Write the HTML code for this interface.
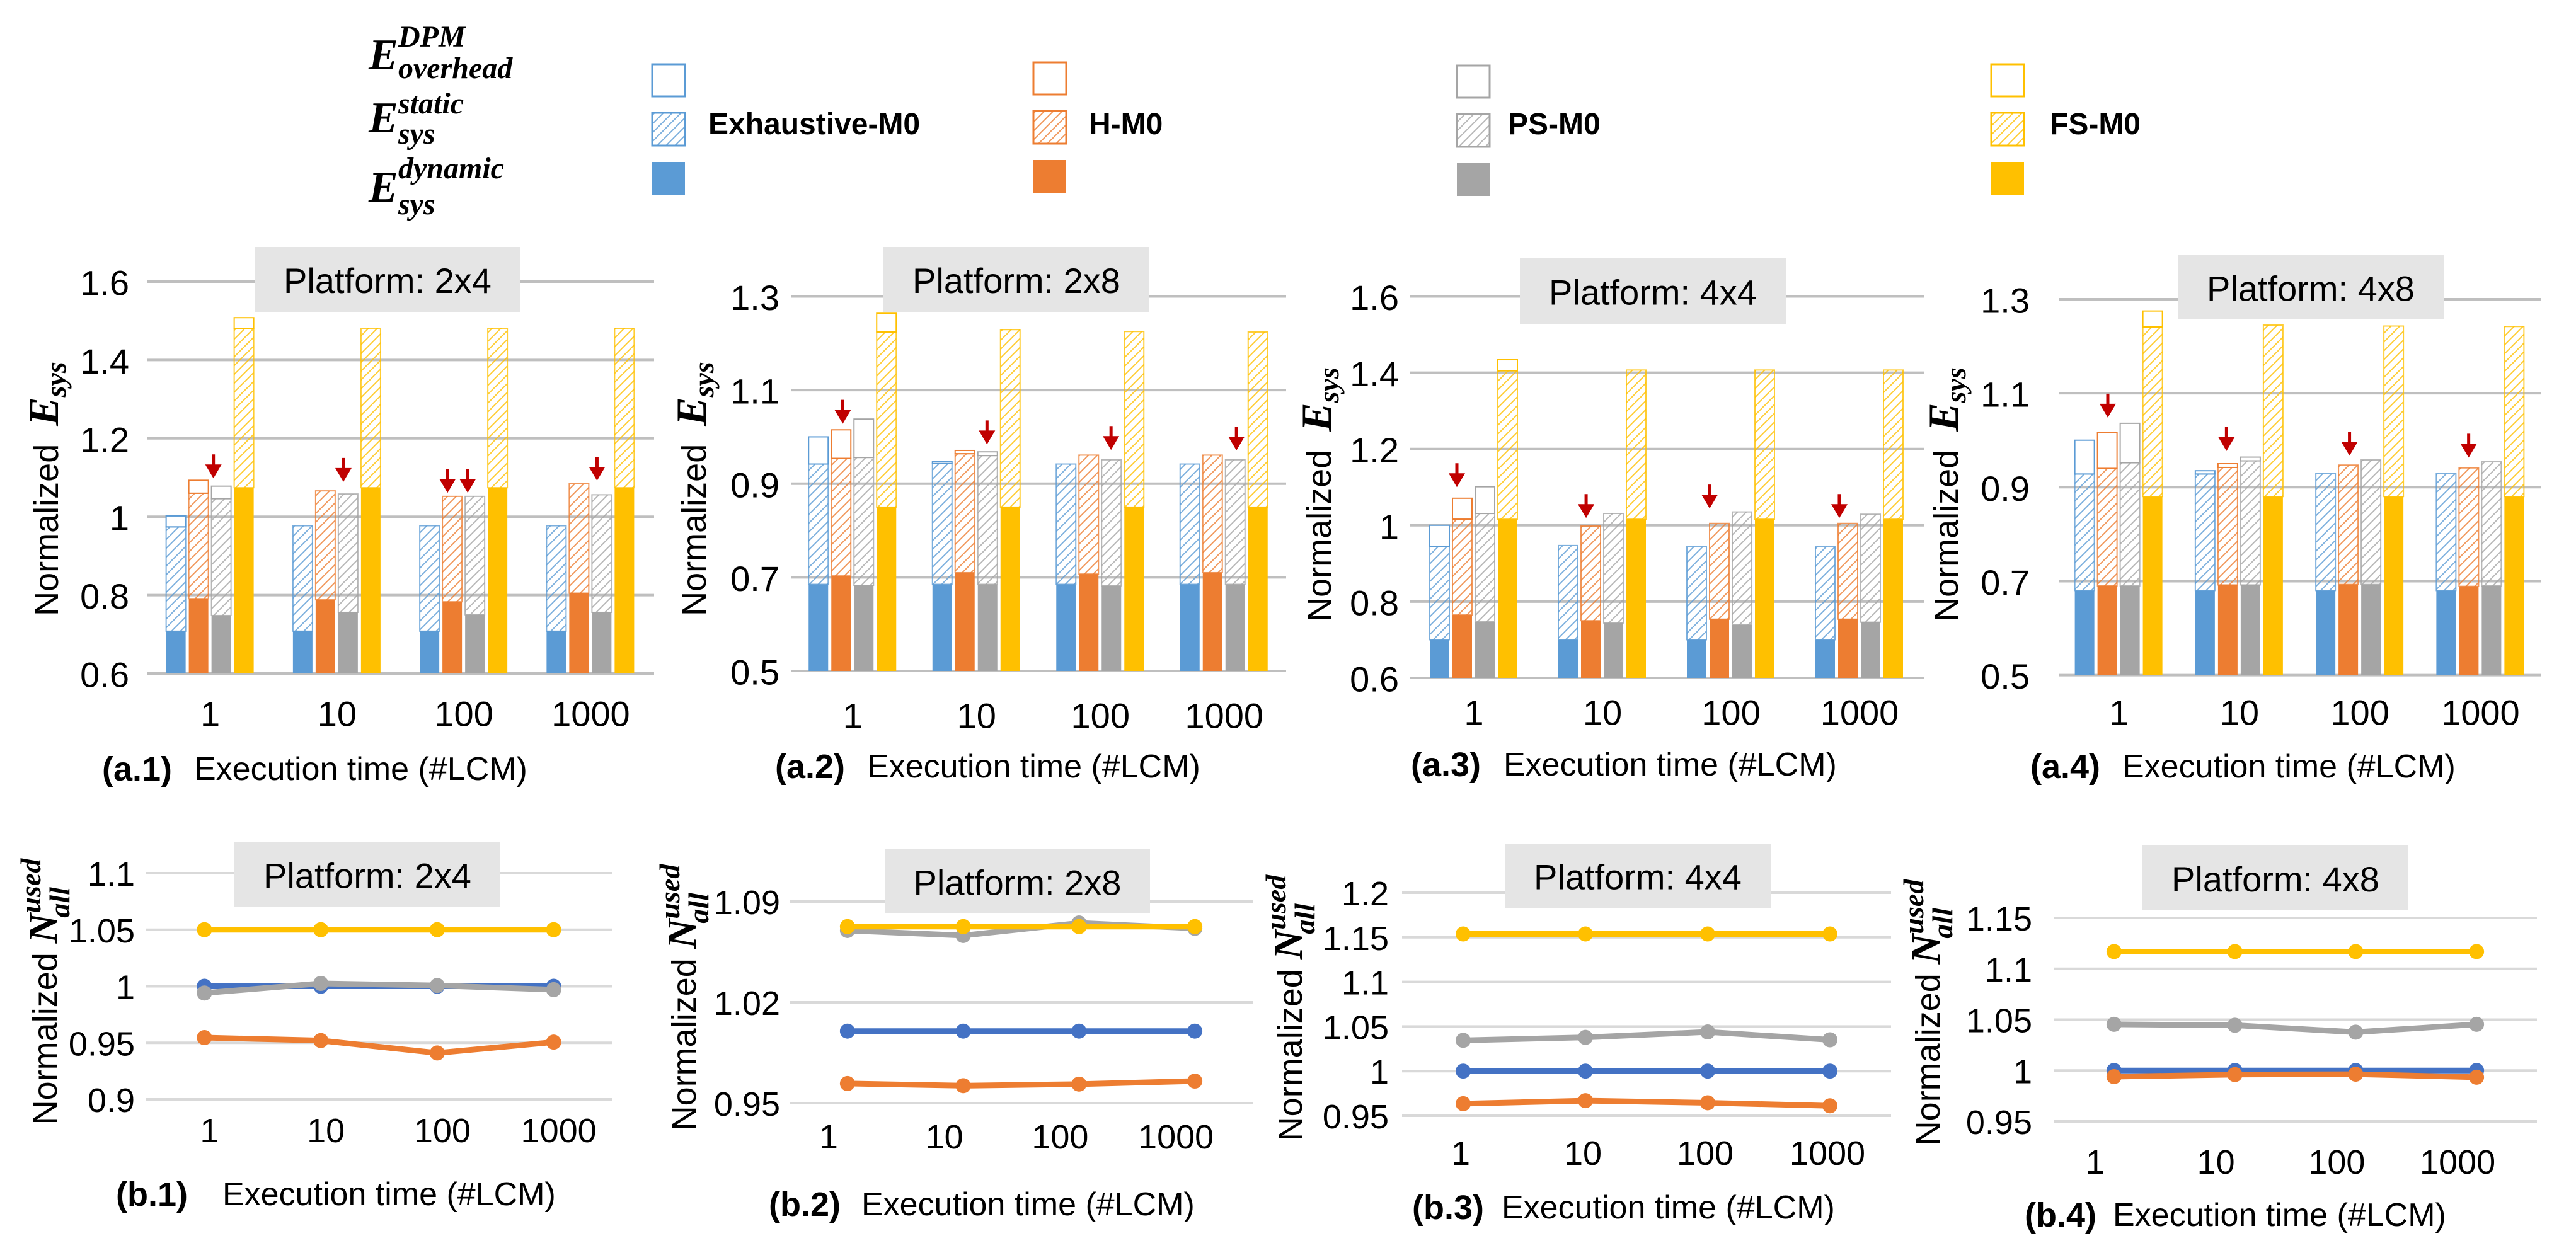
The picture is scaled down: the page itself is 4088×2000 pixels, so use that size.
<!DOCTYPE html>
<html><head><meta charset="utf-8"><title>Energy charts</title>
<style>html,body{margin:0;padding:0;background:#fff}svg{display:block}</style></head>
<body>
<svg id="chart" xmlns="http://www.w3.org/2000/svg" width="4088" height="2000" viewBox="0 0 4088 2000" font-family="'Liberation Sans', sans-serif">
<defs>
<pattern id="h0" patternUnits="userSpaceOnUse" width="14" height="14"><path d="M-2,16 L16,-2 M-9,9 L9,-9 M5,23 L23,5" stroke="#5b9bd5" stroke-width="2" opacity="0.8"/></pattern>
<pattern id="h1" patternUnits="userSpaceOnUse" width="14" height="14"><path d="M-2,16 L16,-2 M-9,9 L9,-9 M5,23 L23,5" stroke="#ed7d31" stroke-width="2" opacity="0.8"/></pattern>
<pattern id="h2" patternUnits="userSpaceOnUse" width="14" height="14"><path d="M-2,16 L16,-2 M-9,9 L9,-9 M5,23 L23,5" stroke="#a5a5a5" stroke-width="2" opacity="0.8"/></pattern>
<pattern id="h3" patternUnits="userSpaceOnUse" width="14" height="14"><path d="M-2,16 L16,-2 M-9,9 L9,-9 M5,23 L23,5" stroke="#ffc000" stroke-width="2" opacity="0.8"/></pattern>
</defs>
</svg>
<script>
const categories = ['1','10','100','1000'];
const seriesNames = ['Exhaustive-M0','H-M0','PS-M0','FS-M0'];
// top panels: [series][category]
const a1Dyn = [[0.708,0.708,0.708,0.708],[0.791,0.788,0.783,0.805],[0.748,0.756,0.750,0.756],[1.074,1.074,1.074,1.074]];
const a1Static = [[0.974,0.977,0.977,0.977],[1.060,1.066,1.052,1.084],[1.046,1.058,1.052,1.056],[1.481,1.481,1.481,1.481]];
const a1Total = [[1.002,0.977,0.977,0.977],[1.093,1.066,1.052,1.084],[1.078,1.058,1.052,1.056],[1.508,1.481,1.481,1.481]];
const a2Dyn = [[0.685,0.685,0.685,0.685],[0.703,0.710,0.707,0.710],[0.683,0.685,0.682,0.685],[0.850,0.850,0.850,0.850]];
const a2Static = [[0.942,0.943,0.942,0.942],[0.954,0.964,0.961,0.961],[0.956,0.960,0.951,0.951],[1.224,1.229,1.225,1.224]];
const a2Total = [[1.000,0.948,0.942,0.942],[1.015,0.971,0.961,0.961],[1.038,0.968,0.951,0.951],[1.264,1.229,1.225,1.224]];
const a3Dyn = [[0.700,0.700,0.700,0.700],[0.765,0.750,0.754,0.754],[0.747,0.744,0.739,0.746],[1.016,1.016,1.016,1.016]];
const a3Static = [[0.944,0.947,0.944,0.944],[1.016,0.998,1.005,1.005],[1.031,1.031,1.035,1.029],[1.405,1.407,1.407,1.407]];
const a3Total = [[1.000,0.947,0.944,0.944],[1.071,0.998,1.005,1.005],[1.101,1.031,1.035,1.029],[1.434,1.407,1.407,1.407]];
const a4Dyn = [[0.680,0.680,0.680,0.680],[0.690,0.692,0.693,0.689],[0.690,0.692,0.693,0.690],[0.880,0.880,0.880,0.880]];
const a4Static = [[0.928,0.928,0.929,0.929],[0.940,0.942,0.947,0.941],[0.952,0.956,0.958,0.954],[1.241,1.245,1.243,1.242]];
const a4Total = [[1.000,0.935,0.929,0.929],[1.017,0.950,0.947,0.941],[1.036,0.964,0.958,0.954],[1.275,1.245,1.243,1.242]];
// arrows: category index, slot within group (in bar pitches), tip value
const a1ArrowCat = [0,1,2,2,3];
const a1ArrowSlot = [2.14,2.28,1.28,2.17,2.28];
const a1ArrowVal = [1.098,1.089,1.061,1.061,1.092];
const a2ArrowCat = [0,1,2,3];
const a2ArrowSlot = [1.56,2.46,2.47,2.54];
const a2ArrowVal = [1.028,0.984,0.972,0.971];
const a3ArrowCat = [0,1,2,3];
const a3ArrowSlot = [1.25,1.28,1.06,1.11];
const a3ArrowVal = [1.100,1.019,1.044,1.019];
const a4ArrowCat = [0,1,2,3];
const a4ArrowSlot = [1.51,1.43,1.54,1.48];
const a4ArrowVal = [1.048,0.977,0.967,0.963];
const a1Ticks = ['0.6','0.8','1','1.2','1.4','1.6'];
const a2Ticks = ['0.5','0.7','0.9','1.1','1.3'];
const a3Ticks = ['0.6','0.8','1','1.2','1.4','1.6'];
const a4Ticks = ['0.5','0.7','0.9','1.1','1.3'];
// bottom panels: [series][category]
const b1Values = [[1.000,1.000,1.000,1.000],[0.9546,0.9520,0.9410,0.9506],[0.9940,1.0025,1.0007,0.9970],[1.050,1.050,1.050,1.050]];
const b2Values = [[1.000,1.000,1.000,1.000],[0.9636,0.9621,0.9632,0.9653],[1.0699,1.0664,1.0751,1.0714],[1.0726,1.0726,1.0726,1.0726]];
const b3Values = [[1.000,1.000,1.000,1.000],[0.9635,0.9669,0.9645,0.9611],[1.0345,1.0378,1.0439,1.0351],[1.1537,1.1537,1.1537,1.1537]];
const b4Values = [[1.000,1.000,1.000,1.000],[0.9940,0.9960,0.9964,0.9934],[1.0454,1.0445,1.0377,1.0454],[1.1169,1.1169,1.1169,1.1169]];
const b1Ticks = ['0.9','0.95','1','1.05','1.1'];
const b2Ticks = ['0.95','1.02','1.09'];
const b3Ticks = ['0.95','1','1.05','1.1','1.15','1.2'];
const b4Ticks = ['0.95','1','1.05','1.1','1.15'];

const NS='http://www.w3.org/2000/svg';
const svg=document.getElementById('chart');
const barColors=['#5b9bd5','#ed7d31','#a5a5a5','#ffc000'];
const lineColors=['#4472c4','#ed7d31','#a5a5a5','#ffc000'];
function mk(tag,attrs,parent){const e=document.createElementNS(NS,tag);for(const k in attrs)e.setAttribute(k,attrs[k]);(parent||svg).appendChild(e);return e;}
function scale(min,max,p0,p1){return v=>p0+(v-min)/(max-min)*(p1-p0);}

function yTitle(g,x,y,kind){
  const t=mk('text',{transform:`translate(${x},${y}) rotate(-90)`,'text-anchor':'middle','font-size':54,fill:'#000'},g);
  
  
  const s1=mk('tspan',{},t);s1.textContent='Normalized ';
  if(kind==='E'){
    const s2=mk('tspan',{'font-family':"'Liberation Serif', serif",'font-weight':'bold','font-style':'italic','font-size':68,dx:14},t);s2.textContent='E';
    const s3=mk('tspan',{'font-family':"'Liberation Serif', serif",'font-weight':'bold','font-style':'italic','font-size':46,dy:12},t);s3.textContent='sys';
  }else{
    const s2=mk('tspan',{'font-family':"'Liberation Serif', serif",'font-weight':'bold','font-style':'italic','font-size':66},t);s2.textContent='N';
    const s3=mk('tspan',{'font-family':"'Liberation Serif', serif",'font-weight':'bold','font-style':'italic','font-size':46,dy:-26},t);s3.textContent='used';
    const s4=mk('tspan',{'font-family':"'Liberation Serif', serif",'font-weight':'bold','font-style':'italic','font-size':46,dy:46,dx:-94},t);s4.textContent='all';
    const s5=mk('tspan',{'font-size':46,dx:20,fill:'none'},t);s5.textContent=' ';
  }
}
function titleBox(g,box,label){
  const r=mk('rect',{x:box[0],y:box[1],width:box[2],height:box[3],fill:'#e5e5e5'},g);
  
  
  const t=mk('text',{x:box[0]+box[2]/2,y:box[1]+box[3]/2+2,'text-anchor':'middle','dominant-baseline':'central','font-size':56,fill:'#000'},g);
  
  
  t.textContent=label;
}
function caption(g,x,y,id,gap){
  const a=mk('text',{x:x,y:y,'dominant-baseline':'central','font-size':54,'font-weight':'bold',fill:'#000'},g);
  
  
  a.textContent=id;
  const b=mk('text',{x:x+gap,y:y,'dominant-baseline':'central','font-size':52,fill:'#000'},g);
  
  
  b.textContent='Execution time (#LCM)';
}
function drawTop(c,dyn,stat,tot,ticks,aCat,aSlot,aVal){
  const g=mk('g',{});
  
  
  const min=parseFloat(ticks[0]),max=parseFloat(ticks[ticks.length-1]);
  const y=scale(min,max,c.p0,c.p1);
  ticks.forEach(tk=>{
    const v=parseFloat(tk);
    const l=mk('line',{x1:c.left,x2:c.right,y1:y(v),y2:y(v),stroke:'#bfbfbf','stroke-width':4},g);
    
    
    const t=mk('text',{x:c.tickRight,y:y(v)+2,'text-anchor':'end','dominant-baseline':'central','font-size':56,fill:'#000'},g);
    
    
    t.textContent=tk;
  });
  const step=(c.right-c.left)/categories.length, pitch=36, bw=31;
  const gStart=i=>c.left+step*(i+0.5)-pitch*2;
  titleBox(g,c.box,c.title);
  categories.forEach((cat,i)=>{
    for(let s=0;s<4;s++){
      const x=gStart(i)+pitch*s+2;
      const yb=y(min), yd=y(dyn[s][i]), ys=y(stat[s][i]), yt=y(tot[s][i]);
      if(yt<ys-0.5){const o=mk('rect',{x:x,y:yt,width:bw,height:ys-yt,fill:'#fff',stroke:barColors[s],'stroke-width':2},g);
        
        }
      const h=mk('rect',{x:x,y:ys,width:bw,height:yd-ys,fill:`url(#h${s})`,stroke:barColors[s],'stroke-width':2,'stroke-opacity':0.8},g);
      
      
      const d=mk('rect',{x:x,y:yd,width:bw,height:yb-yd,fill:barColors[s]},g);
      
      
    }
    const t=mk('text',{x:c.left+step*(i+0.5),y:c.tickY,'text-anchor':'middle','dominant-baseline':'central','font-size':56,fill:'#000'},g);
    
    
    t.textContent=cat;
  });
  aCat.forEach((ci,k)=>{
    const x=gStart(ci)+aSlot[k]*pitch, ty=y(aVal[k]);
    const p=mk('path',{d:`M${x-2.5},${ty-38} L${x+2.5},${ty-38} L${x+2.5},${ty-22} L${x+13},${ty-22} L${x},${ty} L${x-13},${ty-22} L${x-2.5},${ty-22} Z`,fill:'#c00000'},g);
    
    
  });
  yTitle(g,c.axisX,c.axisY,'E');
  caption(g,c.capX,c.capY,c.id,c.gap);
}
function drawBottom(c,vals,ticks){
  const g=mk('g',{});
  
  
  const min=parseFloat(ticks[0]),max=parseFloat(ticks[ticks.length-1]);
  const y=scale(min,max,c.p0,c.p1);
  ticks.forEach(tk=>{
    const v=parseFloat(tk);
    const l=mk('line',{x1:c.left,x2:c.right,y1:y(v),y2:y(v),stroke:'#d9d9d9','stroke-width':4},g);
    
    
    const t=mk('text',{x:c.tickRight,y:y(v)+2,'text-anchor':'end','dominant-baseline':'central','font-size':54,fill:'#000'},g);
    
    
    t.textContent=tk;
  });
  const step=(c.right-c.left)/categories.length;
  const x=i=>c.left+step*(i+0.5);
  titleBox(g,c.box,c.title);
  categories.forEach((cat,i)=>{
    const t=mk('text',{x:x(i)+c.labelShift,y:c.tickY,'text-anchor':'middle','dominant-baseline':'central','font-size':54,fill:'#000'},g);
    
    
    t.textContent=cat;
  });
  vals.forEach((ser,s)=>{
    const pts=ser.map((v,i)=>`${x(i)},${y(v)}`).join(' ');
    const pl=mk('polyline',{points:pts,fill:'none',stroke:lineColors[s],'stroke-width':9,'stroke-linejoin':'round'},g);
    
    
    ser.forEach((v,i)=>{
      const cc=mk('circle',{cx:x(i),cy:y(v),r:12,fill:lineColors[s]},g);
      
      
    });
  });
  yTitle(g,c.axisX,c.axisY,'N');
  caption(g,c.capX,c.capY,c.id,c.gap);
}
drawTop({id:'(a.1)',title:'Platform: 2x4',left:233,right:1038,p0:1069,p1:447,tickRight:205,axisX:92,axisY:776,box:[404,392,422,103],tickY:1133,capX:162,capY:1221,gap:146},a1Dyn,a1Static,a1Total,a1Ticks,a1ArrowCat,a1ArrowSlot,a1ArrowVal);
drawTop({id:'(a.2)',title:'Platform: 2x8',left:1255,right:2041,p0:1065,p1:470.5,tickRight:1237,axisX:1120,axisY:776,box:[1402,392,422,103],tickY:1136,capX:1230,capY:1217,gap:146},a2Dyn,a2Static,a2Total,a2Ticks,a2ArrowCat,a2ArrowSlot,a2ArrowVal);
drawTop({id:'(a.3)',title:'Platform: 4x4',left:2237,right:3053,p0:1076,p1:470.5,tickRight:2220,axisX:2112,axisY:785,box:[2412,410,422,104],tickY:1131,capX:2239,capY:1214,gap:147},a3Dyn,a3Static,a3Total,a3Ticks,a3ArrowCat,a3ArrowSlot,a3ArrowVal);
drawTop({id:'(a.4)',title:'Platform: 4x8',left:3267,right:4032,p0:1071.6,p1:475,tickRight:3221,axisX:3107,axisY:785,box:[3456,405,422,102],tickY:1131,capX:3222,capY:1217,gap:146},a4Dyn,a4Static,a4Total,a4Ticks,a4ArrowCat,a4ArrowSlot,a4ArrowVal);
drawBottom({id:'(b.1)',title:'Platform: 2x4',left:232,right:971,p0:1745,p1:1386,tickRight:214,axisX:90,axisY:1574,box:[372,1337,422,102],tickY:1795,capX:184,capY:1896,gap:169,labelShift:8},b1Values,b1Ticks);
drawBottom({id:'(b.2)',title:'Platform: 2x8',left:1253,right:1988,p0:1751,p1:1431,tickRight:1238,axisX:1104,axisY:1583,box:[1404,1348,421,102],tickY:1805,capX:1220,capY:1912,gap:147,labelShift:-30},b2Values,b2Ticks);
drawBottom({id:'(b.3)',title:'Platform: 4x4',left:2225,right:3001,p0:1771,p1:1417,tickRight:2204,axisX:2066,axisY:1600,box:[2388,1339,422,102],tickY:1831,capX:2241,capY:1917,gap:142,labelShift:-4},b3Values,b3Ticks);
drawBottom({id:'(b.4)',title:'Platform: 4x8',left:3259,right:4026,p0:1780,p1:1457,tickRight:3225,axisX:3078,axisY:1607,box:[3400,1342,422,103],tickY:1845,capX:3213,capY:1929,gap:140,labelShift:-30},b4Values,b4Ticks);

// legend
const lg=mk('g',{});


const legendX=[1035,1640,2312,3160];
const legendDy=[0,-3,2,0];
const legendTextX=[1124,1728,2393,3253];
const rowY=[102,179,257];
legendX.forEach((lx,s)=>{
  const r0=mk('rect',{x:lx,y:rowY[0]+legendDy[s],width:52,height:51,fill:'#fff',stroke:barColors[s],'stroke-width':3},lg);
  
  
  const r1=mk('rect',{x:lx,y:rowY[1]+legendDy[s],width:52,height:52,fill:`url(#h${s})`,stroke:barColors[s],'stroke-width':3},lg);
  
  
  const r2=mk('rect',{x:lx,y:rowY[2]+legendDy[s],width:52,height:52,fill:barColors[s]},lg);
  
  
  const t=mk('text',{x:legendTextX[s],y:213,'font-size':48,'font-weight':'bold',fill:'#000'},lg);
  
  
  t.textContent=seriesNames[s];
});
function mathLabel(base,sup,sub,yb,ysup,ysub){
  const t=mk('text',{'font-family':"'Liberation Serif', serif",'font-weight':'bold','font-style':'italic',fill:'#000'},lg);
  
  
  const a=mk('tspan',{x:585,y:yb,'font-size':70},t);a.textContent=base;
  const b=mk('tspan',{x:632,y:ysup,'font-size':48},t);b.textContent=sup;
  const c=mk('tspan',{x:632,y:ysub,'font-size':48},t);c.textContent=sub;
}
mathLabel('E','DPM','overhead',110,74,124);
mathLabel('E','static','sys',210,180,228);
mathLabel('E','dynamic','sys',320,283,340);
</script>
</body></html>
